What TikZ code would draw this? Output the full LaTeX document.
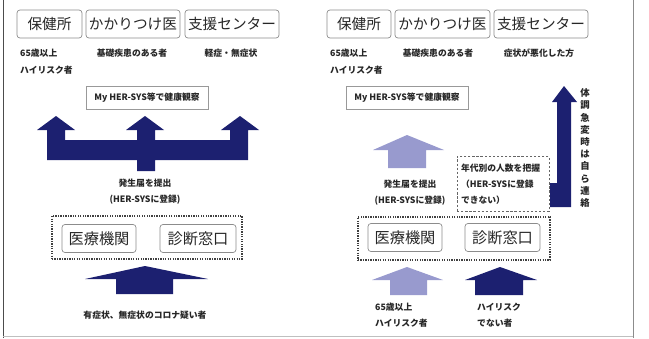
\documentclass[tikz,border=0pt]{standalone}
\usepackage{fontspec}
\newfontfamily\jpfont{Noto Sans CJK JP}
\definecolor{navy}{RGB}{28,32,112}
\definecolor{lavender}{RGB}{152,154,206}
\tikzset{
	every picture/.style={/utils/exec={\jpfont}},
	place/.style={draw=black!45, rounded corners=2.5pt, line width=0.6pt, inner sep=0pt, minimum height=0.84cm, text=black!85, font=\fontsize{12.5}{14}\selectfont},
	desk/.style={place, minimum height=0.84cm, font=\fontsize{13}{14}\selectfont},
	smalltext/.style={font=\bfseries\fontsize{7.5}{14}\selectfont, text=black!85, inner sep=0pt, align=left},
	obsbox/.style={draw=black!40, line width=0.6pt, inner sep=0pt, minimum width=3.66cm, minimum height=0.69cm, font=\bfseries\fontsize{7.5}{9}\selectfont, text=black!85},
	dotgroup/.style={draw=black!75, line width=1.1pt, densely dotted, minimum height=1.29cm, inner sep=0pt},
	countbox/.style={draw=black!60, line width=0.6pt, dash pattern=on 2pt off 1.5pt, text width=2.52cm, inner xsep=0.12cm, minimum height=1.65cm, align=left, font=\bfseries\fontsize{7.5}{13.6}\selectfont, text=black!85},
	frameline/.style={draw=black!45, line width=0.6pt}
}

\begin{document}
\begin{tikzpicture}[x=0.03cm, y=-0.03cm]
	\useasboundingbox (0,0) rectangle (649,338);
	\draw[frameline, draw=black!70] (3,0) -- (3,338);
	\draw[frameline] (633,0) -- (633,338);
	\draw[frameline, draw=black!25] (3,336) -- (633,336);

	\node[place, minimum width=1.95cm] (hc1) at (49.5,24) {保健所};
	\node[place, minimum width=2.82cm] (gp1) at (133,24) {かかりつけ医};
	\node[place, minimum width=2.82cm] (sc1) at (232,24) {支援センター};
	\node[smalltext, anchor=west] (hr1) at (20,61.5) {65歳以上\\ハイリスク者};
	\node[smalltext] (bd1) at (132,53) {基礎疾患のある者};
	\node[smalltext] (ml1) at (231,53) {軽症・無症状};
	\node[obsbox] (obs1) at (147,98) {My HER-SYS等で健康観察};

	\fill[navy] (137,171) -- (137,160) -- (47,160) -- (47,130) -- (37,130) -- (56,116) -- (75,130) -- (65,130)
		-- (65,140) -- (137,140) -- (137,130) -- (126,130) -- (145,116) -- (164,130) -- (155,130) -- (155,140)
		-- (230,140) -- (230,130) -- (221,130) -- (240,116) -- (259,130) -- (248,130) -- (248,160) -- (155,160)
		-- (155,171) -- cycle;

	\node[smalltext, align=center, font=\bfseries\fontsize{7.5}{13.6}\selectfont] (rep1) at (145,192) {発生届を提出\\(HER-SYSに登録)};
	\node[dotgroup, minimum width=5.7cm] (grp1) at (147,237.5) {};
	\node[desk, minimum width=2.22cm] (med1) at (99,238.5) {医療機関};
	\node[desk, minimum width=2.28cm] (diag1) at (198,238.5) {診断窓口};
	\fill[navy] (116,294) -- (116,279) -- (85,279) -- (145,266) -- (208,279) -- (173,279) -- (173,294) -- cycle;
	\node[smalltext] (sus1) at (145,315) {有症状、無症状のコロナ疑い者};

	\node[place, minimum width=1.92cm] (hc2) at (359,24) {保健所};
	\node[place, minimum width=2.85cm] (gp2) at (442.5,24) {かかりつけ医};
	\node[place, minimum width=2.82cm] (sc2) at (541,24) {支援センター};
	\node[smalltext, anchor=west] (hr2) at (330,61.5) {65歳以上\\ハイリスク者};
	\node[smalltext] (bd2) at (438,53) {基礎疾患のある者};
	\node[smalltext] (wr2) at (539,53) {症状が悪化した方};
	\node[obsbox] (obs2) at (407,98) {My HER-SYS等で健康観察};

	\fill[lavender] (388,168) -- (388,150) -- (373,150) -- (407,135) -- (444,150) -- (426,150) -- (426,168) -- cycle;
	\node[smalltext, align=center, font=\bfseries\fontsize{7.5}{13.6}\selectfont] (rep2) at (410,193) {発生届を提出\\(HER-SYSに登録)};
	\node[countbox] (cnt2) at (503,184) {年代別の人数を把握\\（HER-SYSに登録\\できない）};
	\fill[navy] (550,207) -- (550,183) -- (557,183) -- (557,102) -- (552,102) -- (564,86) -- (577,102) -- (571,102)
		-- (571,207) -- cycle;
	\node[smalltext, align=center, font=\bfseries\fontsize{8}{10.4}\selectfont] (call2) at (585,148) {体\\調\\急\\変\\時\\は\\自\\ら\\連\\絡};

	\node[dotgroup, minimum width=5.76cm] (grp2) at (454,238.5) {};
	\node[desk, minimum width=2.22cm] (med2) at (405,237.5) {医療機関};
	\node[desk, minimum width=2.25cm] (diag2) at (502.5,237.5) {診断窓口};
	\fill[lavender] (390,295) -- (390,280) -- (372,280) -- (407,267) -- (443,280) -- (427,280) -- (427,295) -- cycle;
	\fill[navy] (475,295) -- (475,280) -- (465,280) -- (500,267) -- (537,280) -- (523,280) -- (523,295) -- cycle;
	\node[smalltext, anchor=west, font=\bfseries\fontsize{7.5}{13.6}\selectfont] (hr3) at (375,315) {65歳以上\\ハイリスク者};
	\node[smalltext, anchor=west, font=\bfseries\fontsize{7.5}{13.6}\selectfont] (lr3) at (477,315) {ハイリスク\\でない者};
\end{tikzpicture}
\end{document}
